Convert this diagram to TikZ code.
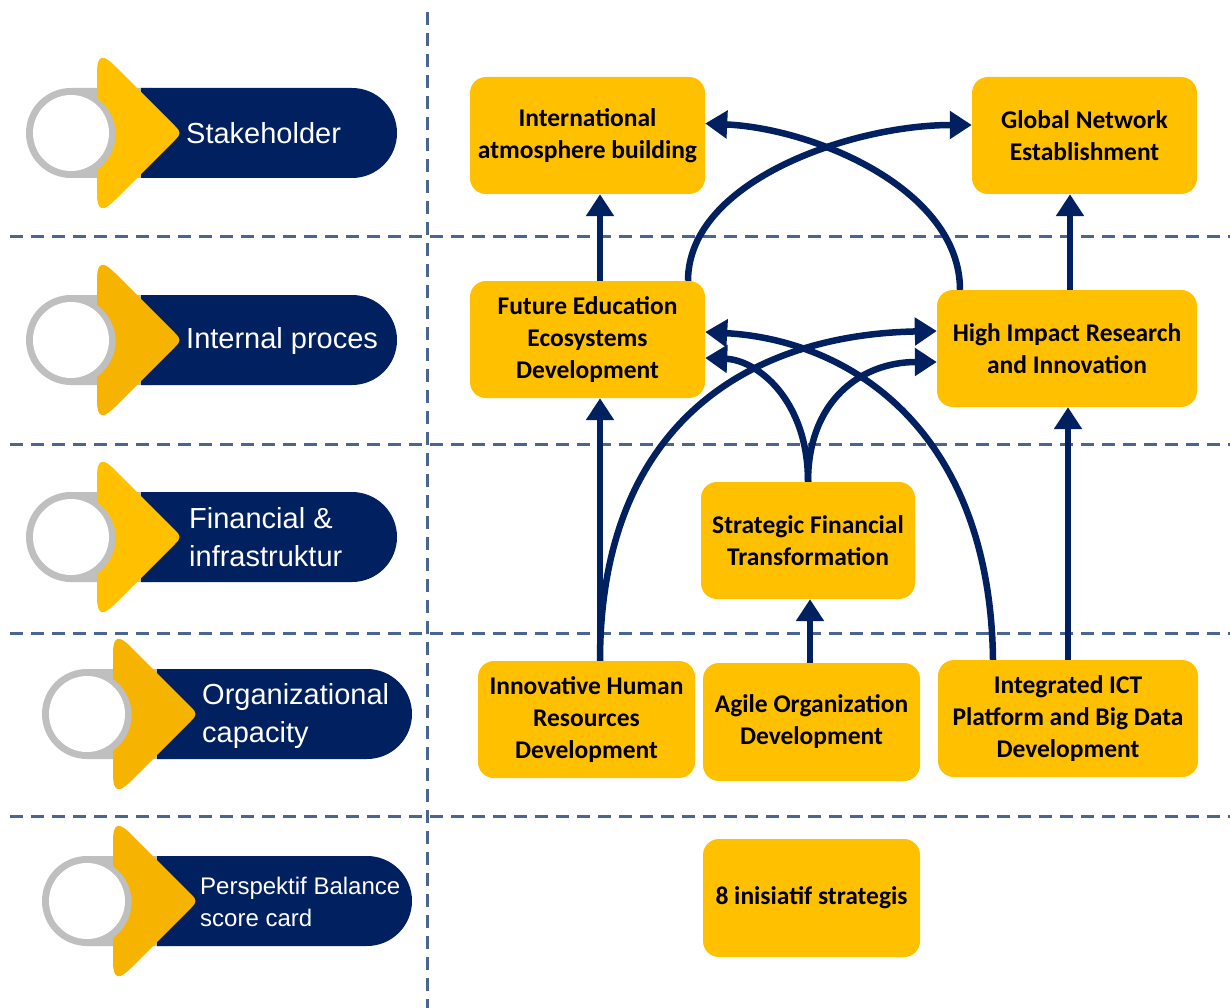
\documentclass[tikz,border=0pt]{standalone}
\usepackage{fontspec}
\newfontfamily\badgefont{Liberation Sans}
\newfontfamily\boxfont{Carlito}
\usetikzlibrary{arrows.meta}
\definecolor{navy}{HTML}{002060}
\definecolor{boxyellow}{HTML}{FFC000}
\definecolor{yellowA}{HTML}{FFC000}
\definecolor{yellowB}{HTML}{F6B400}
\definecolor{ringgray}{HTML}{BFBFBF}
\definecolor{sepcol}{HTML}{4A6690}
\tikzset{
  sepline/.style={draw=sepcol, line width=3pt, dash pattern=on 13pt off 8pt},
  box/.style={fill=boxyellow, rounded corners=16pt, align=center, inner sep=0pt,
    font=\boxfont\bfseries\fontsize{25.5}{32}\selectfont},
  arr/.style={draw=navy, line width=6.5pt, -{Triangle[length=22pt,width=27pt]}},
  badgetext/.style={text=white, anchor=west, align=left, inner sep=0pt,
    font=\badgefont\fontsize{29}{38}\selectfont},
  badgesmall/.style={badgetext, font=\badgefont\fontsize{24}{32}\selectfont}
}
\newcommand\mybadge[4]{%
  \begin{scope}[shift={(#1,#2)}]
    \fill[ringgray] (0,-45) -- (80,-45) -- (80,45) -- (0,45)
      arc[start angle=90, end angle=270, radius=45] -- cycle;
    \fill[navy] (70,-45) -- (#4,-45) arc[start angle=-90, end angle=90, radius=45]
      -- (70,45) -- cycle;
    \fill[white] (0,0) circle[radius=38];
    \fill[#3] (26,37) arc[start angle=54.9, end angle=-54.9, radius=44]
      -- (26,-60) .. controls (26,-80) and (33,-78) .. (44,-67)
      -- (104,-7) .. controls (110,-1) and (110,1) .. (104,7)
      -- (44,67) .. controls (33,78) and (26,80) .. (26,60) -- cycle;
  \end{scope}}
\begin{document}
\begin{tikzpicture}[x=1pt,y=-1pt]
\useasboundingbox (0,0) rectangle (1230,1008);
\fill[white] (0,0) rectangle (1230,1008);
% separators
\draw[sepline] (427,12) -- (427,1008);
\draw[sepline] (10,237) -- (1230,237);
\draw[sepline] (10,444) -- (1230,444);
\draw[sepline] (10,633) -- (1230,633);
\draw[sepline] (10,816) -- (1230,816);
% badges
\mybadge{71}{133}{yellowA}{281}
\mybadge{71}{340}{yellowB}{281}
\mybadge{71}{537}{yellowA}{281}
\mybadge{87}{714}{yellowB}{280}
\mybadge{87}{901}{yellowB}{280}
\node[badgetext] (b1) at (186,133) {Stakeholder};
\node[badgetext] (b2) at (186,341) {Internal proces};
\node[badgetext] (b3) at (189,537) {Financial \&\\infrastruktur};
\node[badgetext] (b4) at (202,716) {Organizational\\capacity};
\node[badgesmall] (b5) at (200,902) {Perspektif Balance\\score card};
% boxes
\node[box, minimum width=235pt, minimum height=117pt] (intl) at (587.5,135.5) {International\\atmosphere building};
\node[box, minimum width=225pt, minimum height=117pt] (global) at (1084.5,135.5) {Global Network\\Establishment};
\node[box, minimum width=235pt, minimum height=117pt] (future) at (587.5,339.5) {Future Education\\Ecosystems\\Development};
\node[box, minimum width=260pt, minimum height=117pt] (high) at (1067,348.5) {High Impact Research\\and Innovation};
\node[box, minimum width=214pt, minimum height=117pt] (strat) at (808,540.5) {Strategic Financial\\Transformation};
\node[box, minimum width=217pt, minimum height=117pt] (hr) at (586.5,719.5) {Innovative Human\\Resources\\Development};
\node[box, minimum width=217pt, minimum height=118pt] (agile) at (811.5,722) {Agile Organization\\Development};
\node[box, minimum width=260pt, minimum height=117pt] (ict) at (1068,718.5) {Integrated ICT\\Platform and Big Data\\Development};
\node[box, minimum width=217pt, minimum height=118pt] (eight) at (811.5,898) {8 inisiatif strategis};
% straight arrows
\draw[arr] ([xshift=12.5pt]future.north) -- ([xshift=12.5pt]intl.south);
\draw[arr] ([xshift=3pt]high.north) -- ([xshift=-14.5pt]global.south);
\draw[arr] ([xshift=13.5pt]hr.north) -- ([xshift=12.5pt]future.south);
\draw[arr] ([xshift=-1.5pt]agile.north) -- ([xshift=2pt]strat.south);
\draw[arr] (ict.north) -- ([xshift=1pt]high.south);
% curved arrows
\draw[arr] ([xshift=100.5pt]future.north) .. controls +(0,-100) and +(-120,0) .. ([yshift=10.5pt]global.west);
\draw[arr] ([xshift=-107pt]high.north) .. controls +(0,-100) and +(110,5) .. ([yshift=12pt]intl.east);
\draw[arr] ([xshift=13.5pt]hr.north) .. controls +(0,-231) and +(-195,4) .. ([yshift=17.5pt]high.west);
\draw[arr] ([xshift=-75pt]ict.north) .. controls +(-3,-230) and +(145,8) .. ([yshift=7.5pt]future.east);
\draw[arr] (strat.north) .. controls +(0,-82) and +(52,2) .. ([yshift=-18.5pt]future.east);
\draw[arr] (strat.north) .. controls +(0,-82) and +(-75,0) .. ([yshift=-13.5pt]high.west);
\end{tikzpicture}
\end{document}
